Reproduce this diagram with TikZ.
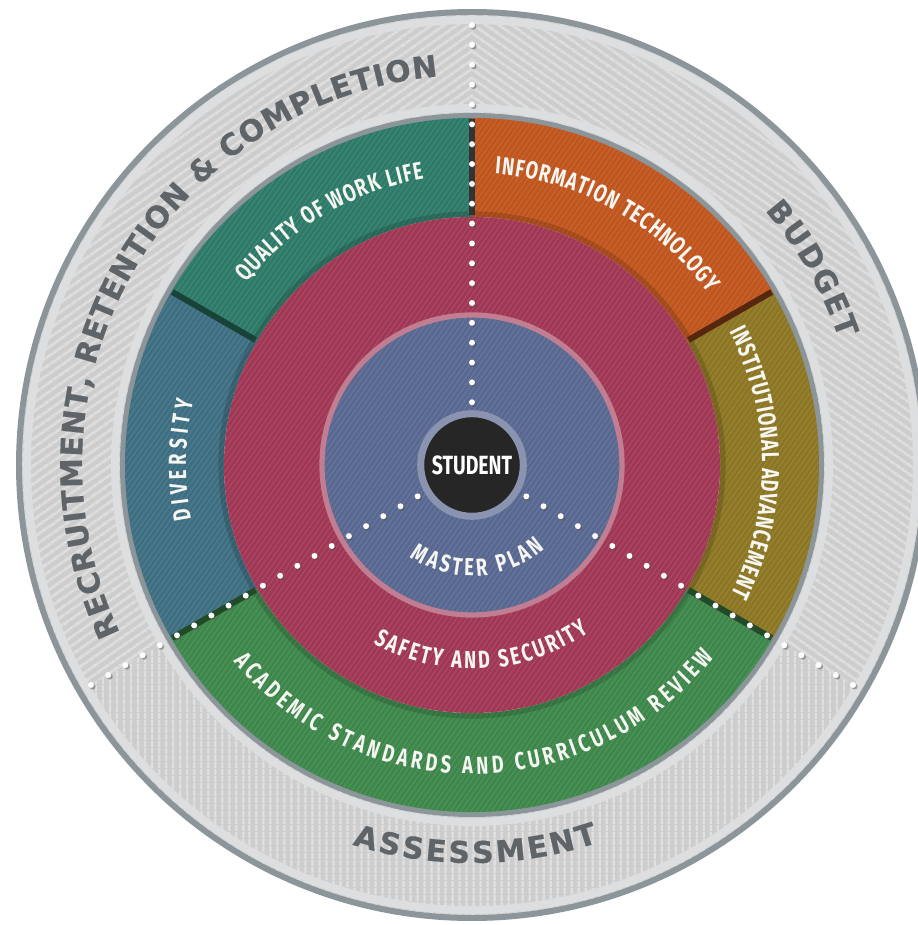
\documentclass[tikz,border=0pt]{standalone}
\usepackage{fontspec}
\setmainfont{Fira Sans}
\newfontfamily\lblfont[FakeStretch=0.74]{Fira Sans}
\newfontfamily\ringfont[FakeBold=0.6]{DejaVu Sans}
\usetikzlibrary{decorations.text,patterns.meta}

\definecolor{ringgray}{HTML}{CDCDCD}
\definecolor{ringstripe}{HTML}{E0E0E0}
\definecolor{ringedge}{HTML}{8C959A}
\definecolor{ringband}{HTML}{DCDEDF}
\definecolor{ringtext}{HTML}{5F6469}
\definecolor{qwlteal}{HTML}{2E7A68}
\definecolor{divblue}{HTML}{3E6E82}
\definecolor{itorange}{HTML}{C0551E}
\definecolor{iaolive}{HTML}{8C7623}
\definecolor{asgreen}{HTML}{3E874B}
\definecolor{safered}{HTML}{A03755}
\definecolor{planblue}{HTML}{586891}
\definecolor{studark}{HTML}{262626}
\definecolor{studrim}{HTML}{8A93B0}
\definecolor{lblwhite}{HTML}{F6F6F2}

\newcommand\lblsize{\lblfont\bfseries\fontsize{14}{16}\selectfont}
\newcommand\ringsize{\ringfont\bfseries\fontsize{17}{19}\selectfont}

% text on an arc: radius, start angle, end angle, colour, font, text
\newcommand\arctext[6]{%
  \path[decorate,decoration={text along path,text align=fit to path,
    text color=#4,text={|#5|#6}}]
    (#2:#1) arc[start angle=#2,end angle=#3,radius=#1];}

\begin{document}
\begin{tikzpicture}
[x=0.02cm,y=0.02cm
,sector/.style n args={4}{insert path={(#1:#4) arc[start angle=#1,end angle=#2,radius=#4]
   -- (#2:#3) arc[start angle=#2,end angle=#1,radius=#3] -- cycle}}
,grayseg/.style={preaction={fill=ringgray},pattern={Lines[angle=#1,distance=4pt,line width=1.4pt]},pattern color=ringstripe}
,seg/.style={preaction={fill=#1},pattern={Lines[angle=55,distance=2.4pt,line width=.6pt]},pattern color=#1!90!white}
,segline/.style={line width=3.4pt}
,dotline/.style={white,line width=3.4pt,line cap=round,dash pattern=on 0pt off 11.3pt,shorten <=4.5pt}
,dotshade/.style={dotline,black!70,opacity=.45}
,hub/.style={circle,fill=studark,draw=studrim,line width=4pt,minimum size=58.4pt,inner sep=0pt,text=white}
]
\useasboundingbox (-472,-460) rectangle (445,465);

% outer grey ring
\fill[grayseg=35,sector={90}{210}{349}{453}];
\fill[grayseg=-35,sector={-30}{90}{349}{453}];
\fill[grayseg=90,sector={210}{330}{349}{453}];
\draw[ringband,line width=4.5pt] (0,0) circle[radius=445];
\draw[ringband,line width=4.5pt] (0,0) circle[radius=357];
\draw[ringedge,line width=3.4pt] (0,0) circle[radius=453];
\draw[ringedge,line width=3.4pt] (0,0) circle[radius=349];

% coloured ring
\fill[seg=qwlteal,sector={90}{150}{248}{347}];
\fill[seg=itorange,sector={30}{90}{248}{347}];
\fill[seg=iaolive,sector={-30}{30}{248}{347}];
\fill[seg=asgreen,sector={210}{330}{248}{347}];
\fill[seg=divblue,sector={150}{210}{248}{347}];
\draw[black,opacity=.15,line width=3pt] (0,0) circle[radius=251];
\draw[segline,draw=itorange!45!black] (30:250) -- (30:346);
\draw[segline,draw=qwlteal!55!black] (150:250) -- (150:346);
\draw[segline,draw=asgreen!55!black] (-30:250) -- (-30:346);
\draw[segline,draw=asgreen!55!black] (210:250) -- (210:346);
\draw[segline,draw=black!80] (90:250) -- (90:346);

% safety ring and master plan disc
\fill[seg=safered] (0,0) circle[radius=248];
\fill[seg=planblue] (0,0) circle[radius=150];
\draw[safered!65!white,line width=3pt] (0,0) circle[radius=150];

\node[hub,font=\lblfont\bfseries\fontsize{15}{17}\selectfont] (student) at (0,0) {STUDENT};
\coordinate (dtop) at (90:442);
\coordinate (dright) at (-30:446);
\coordinate (dleft) at (210:446);
\foreach \e in {dtop,dright,dleft}{
  \draw[dotshade,transform canvas={shift={(.9pt,-.9pt)}}] (student) -- (\e);
  \draw[dotline] (student) -- (\e);
}

% labels
\arctext{290}{141}{99.5}{lblwhite}{\lblsize}{QUALITY OF WORK LIFE}
\arctext{292}{85.5}{36}{lblwhite}{\lblsize}{INFORMATION TECHNOLOGY}
\arctext{290}{27.5}{-26.5}{lblwhite}{\lblsize}{INSTITUTIONAL ADVANCEMENT}
\arctext{286}{191}{167}{lblwhite}{\lblsize}{DIVERSITY}
\arctext{309}{219.5}{321.5}{lblwhite}{\lblsize}{ACADEMIC STANDARDS AND CURRICULUM REVIEW}
\arctext{204}{241}{305}{lblwhite}{\lblsize}{SAFETY AND SECURITY}
\arctext{111}{236}{311}{lblwhite}{\lblsize}{MASTER PLAN}
\arctext{390}{205.5}{95}{ringtext}{\ringsize}{RECRUITMENT, RETENTION {\&} COMPLETION}
\arctext{388}{41}{19}{ringtext}{\ringsize}{BUDGET}
\arctext{398}{252.5}{288.5}{ringtext}{\ringsize}{ASSESSMENT}
\end{tikzpicture}
\end{document}
